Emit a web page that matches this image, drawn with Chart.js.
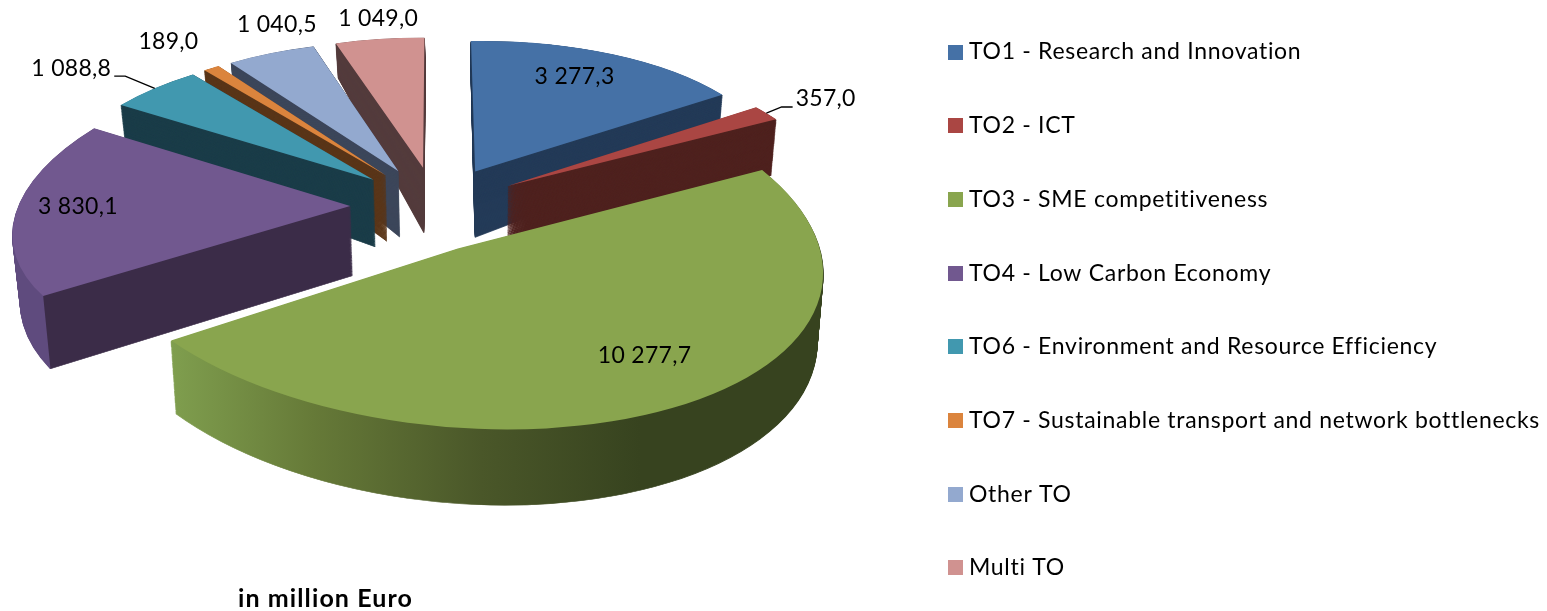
<!DOCTYPE html>
<html><head><meta charset="utf-8">
<style>html,body{margin:0;padding:0;background:#fff}canvas{display:block}</style>
<script src="https://cdn.jsdelivr.net/npm/chart.js@4"></script>
</head><body>
<canvas id="c" width="1547" height="611"></canvas>
<script>
const categories = ["TO1 - Research and Innovation","TO2 - ICT","TO3 - SME competitiveness","TO4 - Low Carbon Economy","TO6 - Environment and Resource Efficiency","TO7 - Sustainable transport and network bottlenecks","Other TO","Multi TO"];
const values = [3277.3,357.0,10277.7,3830.1,1088.8,189.0,1040.5,1049.0];
const unitNote = "in million Euro";

const topColors  = ["#4571a6","#aa4643","#89a54e","#71588f","#4198af","#db843d","#93a9cf","#d09290"];
const wallColors = ["#243b58","#4f221f","#37431f","#3b2c48","#1b3d49","#5a3619","#3c465a","#533b3c"];
const explode    = [0.26,0.26,0.265,0.26,0.26,0.26,0.26,0.26];
const nearSkewX  = [0,0,8,0,0,0,0,0];
const nearSkewY  = [0,0,5,0,0,0,0,0];
const drawOrder  = [7,6,5,4,3,0,1,2];
const labelReach = [0.783,1.235,0.762,0.825,1.334,1.276,1.22,1.176];
const labelTurn  = [-1.8,0.7,-3.6,0,-3.4,0,5.4,0.9];
const labelLeader= [0,1,0,0,-1,0,0,0];

const FONT = "Lato, sans-serif";
const LABEL_SIZE = 23;
const LEGEND_TRACKING = "0.7px";
const LEGEND_LEFT = 902.8;
// camera of the tilted pie
const CX=436, CY=206, SX=1.1, SY=0.5133, FAR_PERSP=0.12, NEAR_PERSP=0.15, CONVERGE=0.017, VANISH_X=470, PIE_RADIUS=300;

function depth(y){ return y>=260 ? 72+(y-260)*0.017 : 72-37*Math.pow((260-y)/215,2); }
function fmt(v){
  const p=v.toFixed(1).split('.');
  return p[0].replace(/\B(?=(\d{3})+$)/g,' ')+','+p[1];
}
function boxIcon(color){
  const c=document.createElement('canvas'); c.width=15; c.height=15;
  const g=c.getContext('2d'); g.fillStyle=color; g.fillRect(0,0,15,15); return c;
}
function proj(X,Y,R){
  const s=Y>=0 ? 1/(1+FAR_PERSP*Y) : 1-NEAR_PERSP*Y;
  return {x:CX+SX*R*X*s, y:CY-SY*R*Y*s};
}
function drop(p,t){ return {x:p.x+t*(VANISH_X-p.x)*CONVERGE, y:p.y+t*depth(p.y)}; }
function frame(arc,i,t){
  const R=arc.outerRadius, m=(arc.startAngle+arc.endAngle)/2, phi=(arc.endAngle-arc.startAngle)/2;
  const ax=explode[i]*Math.cos(m), ay=-explode[i]*Math.sin(m);
  const pt=(X,Y)=>{
    const p=proj(X,Y,R);
    if(Y<0){ p.x-=nearSkewX[i]*Y*Y; p.y-=nearSkewY[i]*Y*Y*Y; }
    return drop(p,t);
  };
  const rim=a=>pt(ax+Math.cos(a),ay-Math.sin(a));
  const Pp=rim(m+phi), Pm=rim(m-phi), Pc=rim(m);
  const V={x:(Pp.x-Pm.x)/(2*Math.sin(phi)), y:(Pp.y-Pm.y)/(2*Math.sin(phi))};
  const avg={x:(Pp.x+Pm.x)/2,y:(Pp.y+Pm.y)/2};
  let P0=pt(ax,ay), U;
  if(phi<Math.PI/3){
    U={x:(avg.x-P0.x)/Math.cos(phi), y:(avg.y-P0.y)/Math.cos(phi)};
  }else{
    U={x:(Pc.x-avg.x)/(1-Math.cos(phi)), y:(Pc.y-avg.y)/(1-Math.cos(phi))};
    P0={x:Pc.x-U.x,y:Pc.y-U.y};
  }
  const ux=Math.cos(m), uy=Math.sin(m), vx=-uy, vy=ux;
  const a=(U.x*ux+V.x*vx)/R, c=(U.x*uy+V.x*vy)/R, b=(U.y*ux+V.y*vx)/R, d=(U.y*uy+V.y*vy)/R;
  return {a,b,c,d,e:P0.x-a*arc.x-c*arc.y,f:P0.y-b*arc.x-d*arc.y,start:Pm};
}
function paint(ctx,arc,M,fill,edge){
  const saved=arc.options;
  arc.options={backgroundColor:fill,borderColor:fill,borderWidth:edge,borderAlign:'center',offset:0,spacing:0,circular:true,borderRadius:0,borderJoinStyle:'round',borderDash:[],borderDashOffset:0};
  ctx.save();
  ctx.setTransform(M.a,M.b,M.c,M.d,M.e,M.f);
  arc.draw(ctx);
  ctx.restore();
  arc.options=saved;
}
function screenGradient(ctx,M,x0,x1,stops){
  const n=M.a*M.a+M.c*M.c;
  const g=ctx.createLinearGradient(M.a*(x0-M.e)/n,M.c*(x0-M.e)/n,M.a*(x1-M.e)/n,M.c*(x1-M.e)/n);
  stops.forEach(s=>g.addColorStop(s[0],s[1]));
  return g;
}
const pie3d={
  id:'pie3d',
  beforeLayout(chart){
    chart.ctx.letterSpacing=LEGEND_TRACKING;
    const l=chart.legend;
    if(l && !l.__noWrap){
      l.__noWrap=true;
      const fit=l._fitCols;
      l._fitCols=function(){ const m=this.maxHeight; this.maxHeight=5000; const r=fit.apply(this,arguments); this.maxHeight=m; return r; };
    }
  },
  afterLayout(chart){
    const l=chart.legend;
    l.left=LEGEND_LEFT; l.top-=40; l.bottom+=40;
  },
  beforeDraw(chart){ chart.ctx.letterSpacing=LEGEND_TRACKING; },
  beforeDatasetDraw(){ return false; },
  afterDatasetsDraw(chart){
    const ctx=chart.ctx, arcs=chart.getDatasetMeta(0).data;
    drawOrder.forEach(i=>{
      const arc=arcs[i];
      const N=76;
      for(let k=N;k>=1;k--){
        const M=frame(arc,i,k/N);
        let fill=wallColors[i];
        if(i===2) fill=screenGradient(ctx,M,172,640,[[0,"#7f9e4e"],[0.3,"#667a38"],[0.66,"#4a5729"],[1,"#37431f"]]);
        if(i===3) fill=screenGradient(ctx,M,M.start.x-0.5,M.start.x+0.5,[[0,"#5f4b7e"],[1,wallColors[3]]]);
        paint(ctx,arc,M,fill,1);
      }
      paint(ctx,arc,frame(arc,i,0),topColors[i],0);
    });
    ctx.save();
    ctx.letterSpacing="0.3px";
    ctx.font=LABEL_SIZE+"px "+FONT; ctx.fillStyle="#000"; ctx.textAlign="center"; ctx.textBaseline="middle";
    arcs.forEach((arc,i)=>{
      const R=arc.outerRadius, m=(arc.startAngle+arc.endAngle)/2;
      const ax=explode[i]*Math.cos(m), ay=-explode[i]*Math.sin(m);
      const a=m+labelTurn[i]*Math.PI/180;
      const p=proj(ax+labelReach[i]*Math.cos(a),ay-labelReach[i]*Math.sin(a),R);
      const txt=fmt(values[i]);
      ctx.fillText(txt,p.x,p.y);
      if(labelLeader[i]){
        const w=ctx.measureText(txt).width, side=labelLeader[i];
        const endX=p.x-side*(w/2+3), y=p.y+8;
        const r=proj(ax+Math.cos(m),ay-Math.sin(m),R);
        ctx.beginPath(); ctx.moveTo(endX,y); ctx.lineTo(endX-side*11,y); ctx.lineTo(r.x,r.y);
        ctx.strokeStyle="#000"; ctx.lineWidth=1.4; ctx.stroke();
      }
    });
    ctx.letterSpacing="1.1px";
    ctx.font="bold 25px "+FONT;
    ctx.fillText(unitNote,325.5,599);
    ctx.restore();
  }
};
new Chart(document.getElementById('c'),{
  type:'pie',
  data:{labels:categories,datasets:[{data:values,backgroundColor:topColors,borderWidth:0,radius:PIE_RADIUS}]},
  options:{
    responsive:false,animation:false,
    layout:{padding:{top:9,right:7}},
    plugins:{
      tooltip:{enabled:false},
      title:{display:false},
      legend:{position:'right',align:'center',
        labels:{
          font:{family:FONT,size:LABEL_SIZE},color:"#000",padding:50.7,
          usePointStyle:true,pointStyleWidth:4,boxHeight:15,
          generateLabels(chart){
            return categories.map((t,i)=>({text:t,fillStyle:topColors[i],strokeStyle:topColors[i],lineWidth:0,pointStyle:boxIcon(topColors[i]),hidden:false,index:i}));
          }
        }
      }
    }
  },
  plugins:[pie3d]
});
</script>
</body></html>
